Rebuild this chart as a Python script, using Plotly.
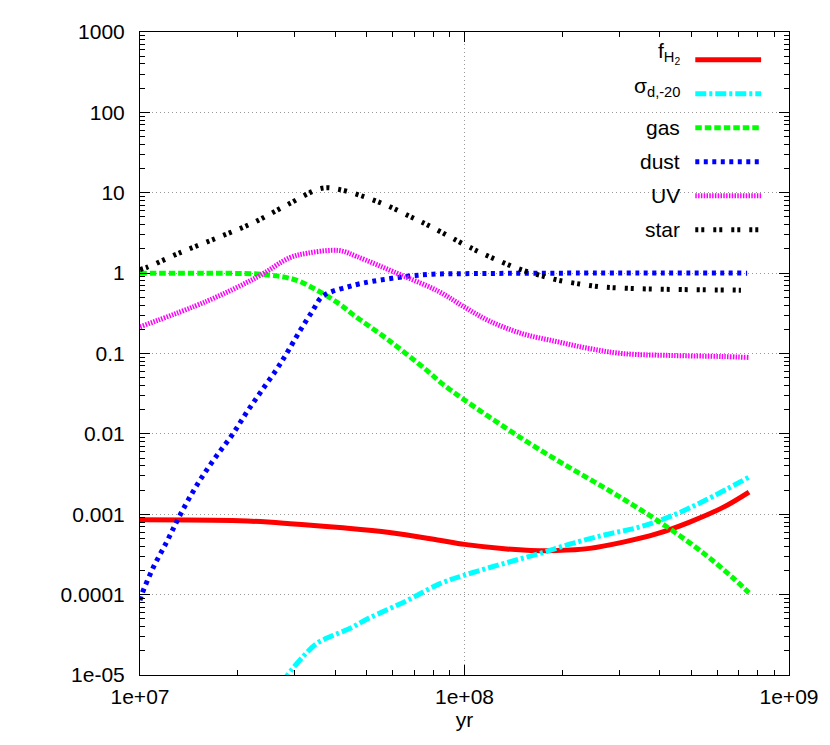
import plotly.graph_objects as go

# ---------------- data ----------------
fh2_x = [1.0e7, 2.03e7, 2.9e7, 4.12e7, 5.87e7, 8.37e7, 1.0e8, 1.35e8, 1.6e8, 1.92e8,
         2.43e8, 3.06e8, 3.90e8, 4.92e8, 6.22e8, 7.53e8]
fh2_y = [8.55e-4, 8.3e-4, 7.64e-4, 6.82e-4, 5.92e-4, 4.75e-4, 4.22e-4, 3.7e-4, 3.55e-4, 3.53e-4,
         3.76e-4, 4.47e-4, 5.69e-4, 7.94e-4, 1.20e-3, 1.89e-3]

sig_x = [2.75e7, 2.85e7, 3.17e7, 3.51e7, 3.93e7, 4.43e7, 5.03e7, 6.64e7, 8.37e7, 1.0e8,
         1.35e8, 1.70e8, 2.15e8, 2.74e8, 3.45e8, 4.37e8, 5.56e8, 7.53e8]
sig_y = [8.0e-6, 1.0e-5, 1.67e-5, 2.48e-5, 3.1e-5, 3.79e-5, 5.0e-5, 8.4e-5, 1.36e-4, 1.75e-4,
         2.5e-4, 3.24e-4, 4.34e-4, 5.6e-4, 6.9e-4, 9.6e-4, 1.51e-3, 2.9e-3]

gas_x = [1.0e7, 1.6e7, 2.26e7, 2.51e7, 2.70e7, 2.90e7, 3.10e7, 3.51e7, 4.12e7, 4.59e7,
         5.87e7, 7.64e7, 8.49e7, 1.0e8, 1.35e8, 1.70e8, 2.15e8, 2.74e8, 3.45e8, 4.37e8,
         5.56e8, 6.68e8, 7.53e8]
gas_y = [1.0, 0.995, 0.98, 0.94, 0.91, 0.86, 0.79, 0.614, 0.412, 0.294,
         0.144, 0.062, 0.0428, 0.0264, 0.01161, 6.4e-3, 3.63e-3, 2.06e-3, 1.17e-3, 6.27e-4,
         3.08e-4, 1.65e-4, 1.05e-4]

dust_x = [1.0e7, 1.014e7, 1.096e7, 1.211e7, 1.309e7, 1.425e7, 1.552e7, 1.726e7, 1.92e7,
          2.13e7, 2.37e7, 2.64e7, 2.83e7, 3.10e7, 3.40e7, 3.63e7, 3.93e7, 4.34e7, 4.69e7,
          5.21e7, 6.64e7, 7.98e7, 1.0e8, 2.0e8, 7.43e8]
dust_y = [8.5e-5, 1.02e-4, 2.13e-4, 4.6e-4, 8.7e-4, 1.64e-3, 2.9e-3, 5.4e-3, 9.6e-3,
          0.0184, 0.0344, 0.064, 0.10, 0.187, 0.338, 0.504, 0.596, 0.668, 0.728,
          0.791, 0.912, 0.97, 0.985, 1.0, 1.0]

uv_x = [1.0e7, 1.61e7, 2.29e7, 2.90e7, 3.3e7, 3.9e7, 4.2e7, 4.66e7, 6.31e7, 8.3e7, 1.0e8,
        1.19e8, 1.51e8, 1.92e8, 2.43e8, 3.06e8, 4.37e8, 6.22e8, 7.53e8]
uv_y = [0.215, 0.449, 0.887, 1.56, 1.78, 1.92, 1.88, 1.61, 0.966, 0.596, 0.378,
        0.255, 0.176, 0.141, 0.115, 0.100, 0.0944, 0.0918, 0.0893]

star_x = [1.0e7, 1.05e7, 1.33e7, 1.73e7, 2.23e7, 2.83e7, 3.63e7, 4.12e7, 5.47e7, 6.92e7,
          8.0e7, 1.0e8, 1.135e8, 1.30e8, 1.48e8, 1.70e8, 1.93e8, 2.26e8, 2.60e8,
          3.0e8, 3.98e8, 7.11e8]
star_y = [1.11, 1.18, 1.80, 2.75, 4.22, 7.01, 11.35, 10.96, 7.59, 4.90,
          3.67, 2.26, 1.76, 1.38, 1.12, 0.944, 0.822, 0.733, 0.679,
          0.653, 0.631, 0.614]

x_tick_vals = [1e7, 1e8, 1e9]
x_tick_text = ["1e+07", "1e+08", "1e+09"]
y_tick_vals = [1e-5, 1e-4, 1e-3, 1e-2, 1e-1, 1, 10, 100, 1000]
y_tick_text = ["1e-05", "0.0001", "0.001", "0.01", "0.1", "1", "10", "100", "1000"]

series_names = ["f<sub>H<sub>2</sub></sub>", "σ<sub>d,-20</sub>", "gas", "dust", "UV", "star"]
series_x = [fh2_x, sig_x, gas_x, dust_x, uv_x, star_x]
series_y = [fh2_y, sig_y, gas_y, dust_y, uv_y, star_y]

# ---------------- styles ----------------
colors = ["#ff0000", "#00ffff", "#00ff00", "#0000ff", "#ff00ff", "#000000"]
dashes = ["solid", "11px,3px,3px,3px", "6.5px,3px", "4px,4.5px", "1.5px,1.3px", "3px,3px,3px,9px"]
widths = [5, 5, 5, 5, 5, 5]

FONT = "Liberation Sans, Arial, Helvetica, sans-serif"
FS = 21

fig = go.Figure()
for name, xs, ys, c, d, w in zip(series_names, series_x, series_y, colors, dashes, widths):
    fig.add_trace(go.Scatter(x=xs, y=ys, mode="lines", name=name,
                             line=dict(color=c, dash=d, width=w, shape="spline", smoothing=1.0),
                             showlegend=False))

# minor ticks positions
minor_x = [k * 10 ** n for n in range(7, 9) for k in range(2, 10)]
minor_y = [k * 10.0 ** n for n in range(-5, 3) for k in range(2, 10)]

axis_common = dict(type="log", ticks="inside", ticklen=10, tickwidth=1, tickcolor="black",
                   showline=True, linecolor="black", linewidth=1, mirror="allticks",
                   showgrid=True, gridcolor="#9a9a9a", griddash="1px,3px", gridwidth=1,
                   zeroline=False, tickfont=dict(family=FONT, size=FS, color="black"))

fig.update_xaxes(range=[7, 9], tickvals=x_tick_vals, ticktext=x_tick_text,
                 ticklabelstandoff=3,
                 minor=dict(tickvals=minor_x, ticks="inside", ticklen=5, tickcolor="black",
                            showgrid=False),
                 title=dict(text="yr", font=dict(family=FONT, size=FS, color="black"), standoff=4),
                 **axis_common)
fig.update_yaxes(range=[-5, 3], tickvals=y_tick_vals, ticktext=y_tick_text,
                 ticklabelstandoff=10,
                 minor=dict(tickvals=minor_y, ticks="inside", ticklen=5, tickcolor="black",
                            showgrid=False),
                 **axis_common)

# ---------------- manual gnuplot-style legend ----------------
OFF = 8  # page body margin
W, H = 830 - OFF, 745 - OFF
L, R, T, B = 140, 791, 25, 675
def px_x(p):
    return (p - L) / (R - L)
def px_y(p):
    return (B - p) / (B - T)

shapes = [dict(type="rect", xref="paper", yref="paper", layer="between",
               x0=px_x(615), x1=px_x(775), y0=px_y(242), y1=px_y(28),
               fillcolor="white", line=dict(width=0))]
annotations = []
row0, step = 53, 34.4
for i, (name, c, d, w) in enumerate(zip(series_names, colors, dashes, widths)):
    ry = row0 + i * step
    shapes.append(dict(type="line", xref="paper", yref="paper", layer="above",
                       x0=px_x(697), x1=px_x(763), y0=px_y(ry), y1=px_y(ry),
                       line=dict(color=c, dash=d, width=w)))
    yshift = 7 if i in (0, 1) else 0
    annotations.append(dict(xref="paper", yref="paper", x=px_x(684), y=px_y(ry),
                            xanchor="right", yanchor="middle", showarrow=False,
                            text=name, yshift=yshift,
                            font=dict(family=FONT, size=FS, color="black")))

fig.update_layout(width=W, height=H,
                  margin=dict(l=L - OFF, r=W + OFF - R, t=T - OFF, b=H + OFF - B),
                  paper_bgcolor="white", plot_bgcolor="white",
                  shapes=shapes, annotations=annotations, showlegend=False,
                  font=dict(family=FONT, size=FS, color="black"))

fig.write_html("out.html")
